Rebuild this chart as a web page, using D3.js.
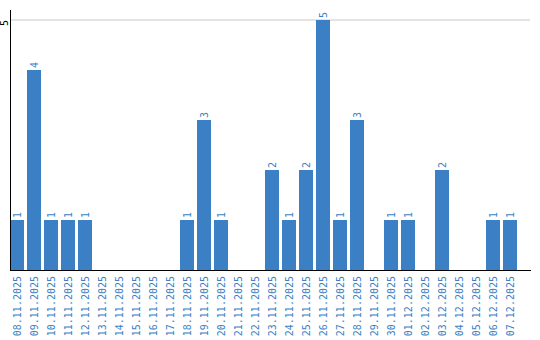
<!DOCTYPE html>
<html>
<head>
<meta charset="utf-8">
<script src="https://cdn.jsdelivr.net/npm/d3@7"></script>
<style>
  body { margin: 0; background: #fff; }
  text { font-family: "DejaVu Sans Mono", monospace; }
</style>
</head>
<body>
<svg id="chart" width="540" height="340"></svg>
<script>
const days = ['08.11.2025', '09.11.2025', '10.11.2025', '11.11.2025', '12.11.2025', '13.11.2025',
  '14.11.2025', '15.11.2025', '16.11.2025', '17.11.2025', '18.11.2025', '19.11.2025', '20.11.2025',
  '21.11.2025', '22.11.2025', '23.11.2025', '24.11.2025', '25.11.2025', '26.11.2025', '27.11.2025',
  '28.11.2025', '29.11.2025', '30.11.2025', '01.12.2025', '02.12.2025', '03.12.2025', '04.12.2025',
  '05.12.2025', '06.12.2025', '07.12.2025'];
const counts = [1, 4, 1, 1, 1, 0, 0, 0, 0, 0, 1, 3, 1, 0, 0, 2, 1, 2, 5, 1, 3, 0, 1, 1, 0, 2, 0, 0, 1, 1];
const yTicks = [5];

const blue = '#3b7fc4';
const svg = d3.select('#chart');

const x = d3.scaleBand()
    .domain(days)
    .range([10, 520])
    .paddingInner(3 / 17)
    .paddingOuter(3 / 34)
    .align(0);

const y = d3.scaleLinear()
    .domain([0, 5])
    .range([270, 20]);

// grid
svg.append('g')
  .selectAll('line')
  .data(yTicks)
  .join('line')
    .attr('x1', 10).attr('x2', 530)
    .attr('y1', d => y(d)).attr('y2', d => y(d))
    .attr('stroke', '#c8c8c8');

svg.append('g')
  .selectAll('text')
  .data(yTicks)
  .join('text')
    .attr('transform', d => `translate(8,${y(d)}) rotate(-90)`)
    .attr('text-anchor', 'end')
    .attr('font-size', 10)
    .attr('fill', '#000')
    .text(d => d);

// bars
const data = days.map((d, i) => ({ day: d, n: counts[i] }));
svg.append('g')
  .selectAll('rect')
  .data(data.filter(d => d.n > 0))
  .join('rect')
    .attr('x', d => x(d.day))
    .attr('y', d => y(d.n))
    .attr('width', x.bandwidth())
    .attr('height', d => y(0) - y(d.n))
    .attr('fill', blue);

svg.append('g')
  .selectAll('text')
  .data(data.filter(d => d.n > 0))
  .join('text')
    .attr('transform', d => `translate(${x(d.day) + x.bandwidth() / 2 + 3.5},${y(d.n) - 2}) rotate(-90)`)
    .attr('font-size', 10)
    .attr('fill', blue)
    .text(d => d.n);

// axes lines
svg.append('line')
    .attr('x1', 10.5).attr('x2', 10.5)
    .attr('y1', 10).attr('y2', 270)
    .attr('stroke', '#000');
svg.append('line')
    .attr('x1', 10).attr('x2', 531)
    .attr('y1', 270.5).attr('y2', 270.5)
    .attr('stroke', '#000')
    .attr('stroke-width', 1.2);

// x labels
svg.append('g')
  .selectAll('text')
  .data(days)
  .join('text')
    .attr('transform', d => `translate(${x(d) + x.bandwidth() / 2 + 3.5},276) rotate(-90)`)
    .attr('text-anchor', 'end')
    .attr('font-size', 10)
    .attr('fill', blue)
    .text(d => d);
</script>
</body>
</html>
